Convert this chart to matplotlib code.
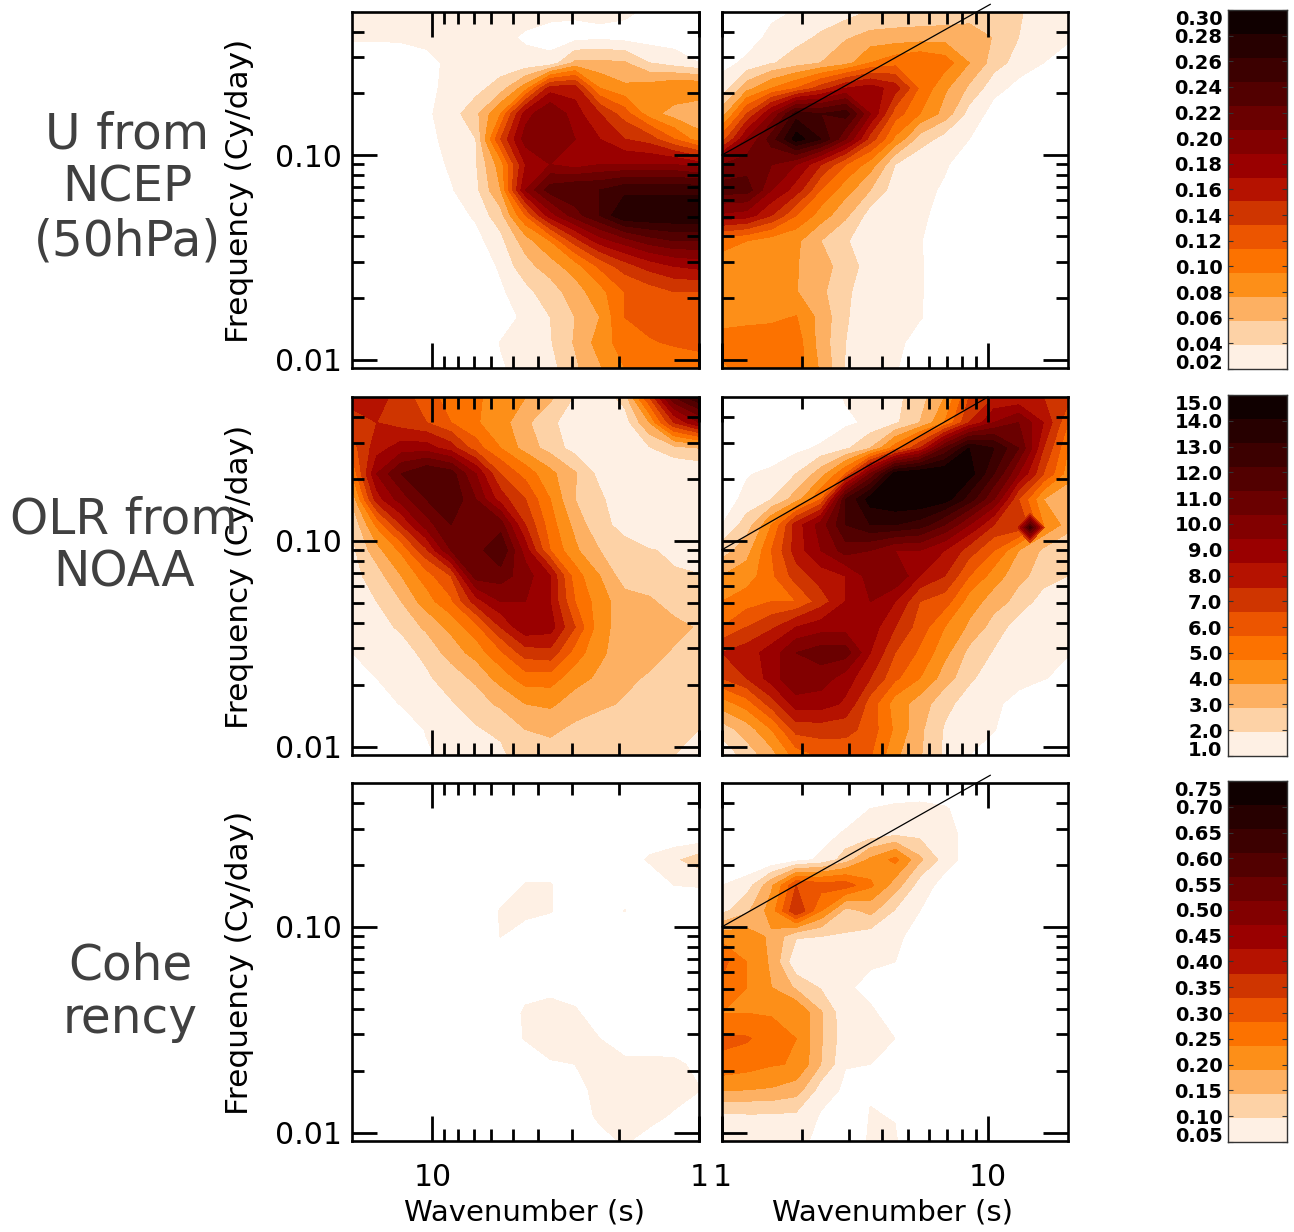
import numpy as np
import matplotlib
matplotlib.use("Agg")
import matplotlib.pyplot as plt
from matplotlib.ticker import FixedLocator, NullFormatter

W, H = 1294, 1232
BAND_COLORS = ['#FEF0E4', '#FDD2A6', '#FDB062', '#FD8F18', '#FC7200', '#EC5500', '#CF3500', '#B51200',
               '#9A0000', '#820000', '#6A0000', '#520000', '#3C0000', '#270000', '#100000']

# Field values, in multiples of each row's contour unit; rows run top (high frequency) to bottom,
# columns run left to right across the panel.
U_WEST = [
 [1.3,1.3,1.6,1.3,1.3,1.3,1.3,1.3,1.3,1.2,1.2,1.2,0.8,0.5,0.5],
 [1.2,1.2,1.3,1.3,1.3,1.3,1.2,0.9,0.6,0.6,0.8,0.6,0.5,0.5,0.5],
 [0,0,0,0.7,1.2,1.3,1.3,1.2,1.3,3.2,3.2,3.1,2,1.5,1.0],
 [0,0,0,0.8,1.2,1.6,2.5,4.5,8.5,8.5,5,4.2,4.5,5,5],
 [0,0,0,0.8,1.5,2.7,5,9.5,11,9.5,8,6.5,4.5,3.5,3],
 [0,0,0,0.5,1.5,2,7,10.5,10.5,10,9,8,7.5,6,4.5],
 [0,0,0,0.3,1.2,1.9,4.5,9,10,9.5,10,10,10,10,9.5],
 [0,0,0,0,0.9,1.7,4,10,12.5,13,13,13.7,13.7,13.7,13.7],
 [0,0,0,0,0.3,1.2,2.6,6,9.5,11.5,13,15,15,15,15],
 [0,0,0,0,0,0.6,1.7,3.5,5,7.5,9.5,10.5,11.5,12,12],
 [0,0,0,0,0,0,1.2,2.6,3.5,4.5,6.2,7.5,8.4,9,9.3],
 [0,0,0,0,0,0,0.8,1.7,2.5,3.5,4.6,6,6.5,7,7],
 [0,0,0,0,0,0,0.3,1.3,2.0,3,4.0,6,6.4,6.5,6.5],
 [0,0,0,0,0,0,1.05,1.4,1.9,3.1,4.4,5.5,5.9,6.1,6.3],
 [0,0,0,0,0,0,0.9,1.3,1.6,2.8,3.9,5,5.3,5.5,5.5],
]
U_EAST = [
 [0,0,0.7,1.1,1.2,1.5,2.1,2.2,2.2,2.2,2.2,2.2,2.1,1.5,1.2],
 [0,0.5,1.3,1.6,2.2,2.9,3.3,3.4,3.5,3.6,3.8,2.9,2,1.4,1.1],
 [0.7,1.2,1.9,2.5,3,3.6,5,5.6,6,5.5,4,2.5,1.5,1,0.7],
 [1.4,3.6,5,6,7.5,9,9.5,8.5,5.8,4.2,2.8,1.3,0.7,0,0],
 [3.5,7,10,13.5,13,13.5,10,6.5,5,3.6,1.6,0.6,0,0,0],
 [6.5,10,12.5,15.5,14,11,7.5,4.8,2.5,1.6,1,0.4,0,0,0],
 [11,11.5,11,10,8,6,4.5,2,1.3,1.1,0.5,0,0,0,0],
 [12.5,12.5,10,8.5,6,4.4,3,1.4,1.2,0.9,0,0,0,0,0],
 [9.8,9.5,8,6,4.5,3.2,1.5,1.2,1.2,0.6,0,0,0,0,0],
 [5.5,5,4.5,4.2,3,2.1,1.3,1.2,1.1,0,0,0,0,0,0],
 [4.4,4.3,4.2,4.05,3.4,2.5,1.5,1.3,1.1,0.4,0,0,0,0,0],
 [4.3,4.2,4.1,4.05,3.2,2.2,1.3,1.2,1.1,0.3,0,0,0,0,0],
 [4.5,4.7,4.8,5.05,3.6,2.1,1.3,1.2,1.1,0.2,0,0,0,0,0],
 [5.5,5.5,5.5,5.5,3.5,2.0,1.4,1.3,0.5,0,0,0,0,0,0],
 [4.8,5.5,5.5,5.5,3.8,1.9,1.2,1.1,0.3,0,0,0,0,0,0],
]
OLR_WEST = [
 [8.5,8.5,7.5,6.5,5.5,5.2,4.5,4,3.2,1.9,1.2,2.5,7,12,14],
 [7.5,8,7.5,7,6,5.1,4.5,3.2,2.3,1.3,1.1,1.4,4,8,10],
 [6.5,8.5,9.5,9.5,8.5,6.5,5,3.6,2.6,1.6,1.2,1.2,1.9,2.6,3],
 [5,10,12,13,12.5,10,7,5.6,4.3,3.1,1.7,1.1,1.1,1.1,1.1],
 [3.2,8.5,10.5,12,13,11,8.5,7,5,3,2.2,1.3,1.1,1.1,1.1],
 [2,5.2,8,10.5,12,11.5,11.5,8,5.5,3.7,2.2,1.8,1.2,1.1,1.1],
 [1.7,3.6,5.2,7.8,11,11.5,13,9.5,6,4.2,3,2.2,2.05,1.9,1.4],
 [1.6,2.5,4,5.5,7,11.5,11.5,10.5,9,5.5,4,2.5,2.1,2.05,2.05],
 [1.1,2,3,4.5,5.8,8.5,10,10,9,6,4.5,3.4,3.2,2.5,2.2],
 [1,1.5,2.2,3.2,4.3,5.6,8,9.8,9.5,7,4.4,3.5,3.4,3.3,2.9],
 [1,1.1,1.5,2.3,3.4,4.4,5.8,7.5,7.7,5.6,4.2,3.5,3.3,2.9,2.3],
 [0.7,1,1.1,1.8,2.5,3.2,4.4,5.5,5.5,4.4,3.8,3.2,2.9,2.5,2.2],
 [0,0.6,1.05,1.4,1.9,2.5,3.2,4,4.2,3.5,3.2,2.9,2.4,2.2,2.0],
 [0,0,0.5,1.05,1.3,1.9,2.2,3.0,3.2,2.8,2.5,2.3,2.2,2.1,2.0],
 [0,0,0,0.9,1.2,1.4,1.8,2.5,2.6,2.3,2.2,2.1,2.05,2.0,1.9],
]
OLR_EAST = [
 [0,0,0,0,0.3,1.1,1.3,1.7,2.6,4,7,8,8,8,7.5],
 [0,0,0,0,0,0.8,1.2,1.8,3,5,8,10,11,9,6],
 [0,0,0,0.7,1.2,1.8,3,5.5,8,12,15,14,12,8,5],
 [0.3,0.9,1.3,2,3.5,6,11,15.5,16,16,15.5,13,10,7,4.5],
 [0.5,1.3,2,3.5,6,13,15.5,16,16,15.5,13.5,11,7,4,3.2],
 [1,2.5,5,8.5,10.5,13,14,14,13.5,12,10,8,8,5,3.5],
 [2.5,3.6,6,8.5,10,11.5,11,10,10,9,7.5,6,4,2.8,2],
 [4,4.5,5.8,7.5,8.5,9,10.5,11,9,8,6,4.5,3.3,2.5,2],
 [5,5.5,6,6,7.5,9,10,9,7,6.5,4.5,3.5,2.6,1.5,1.2],
 [6,7,7.8,9,9.5,9.5,9.5,8,6.5,5,3.8,2.5,1.5,1.1,1.1],
 [8,8.5,9.5,11,11.5,11.5,9,7,5.8,4.3,2.7,1.9,1.2,1.1,1.05],
 [7,8,9.5,11,10.5,9.5,8,6.2,5,3.5,2.2,1.3,1.1,1.05,0.7],
 [4.5,5.5,7.5,9.5,9.5,8.8,6.5,4.5,3.5,2.3,1.5,1.05,0.9,0.2,0],
 [2.5,3.5,5,7.4,7.5,7.4,6.5,4.8,3.2,1.9,1.2,1.05,0.3,0,0],
 [1.2,2.5,3.6,5.5,6.2,6.3,6.1,4.2,3.1,1.8,1,0.6,0,0,0],
]
# Small isolated OLR maximum beside the right-hand edge of the east panel
OLR_SPOT_WAVENUMBER = [12.6, 14.4, 16.4]
OLR_SPOT_FREQUENCY = [0.137, 0.116, 0.097]
OLR_SPOT = [[6.5, 6.5, 6.5], [6.5, 13.5, 6.5], [6.5, 6.5, 6.5]]

COH_WEST = [
 [0]*15,
 [0]*15,
 [0]*15,
 [0,0,0,0,0,0,0,0,0,0,0,0,1.2,1.8,2.5],
 [0,0,0,0,0,0,0,1.1,1.1,0,0,0,0,1.0,1.1],
 [0,0,0,0,0,0,1.1,1.6,1.1,0,0,1.05,0,0,0],
 [0,0,0,0,0,0,1.03,0,0,0,0,0,0,0,0],
 [0]*15,
 [0,0,0,0,0,0,0,0.5,0.6,0,0,0,0,0,0],
 [0,0,0,0,0,0,0,1.2,1.5,1.3,0,0,0,0,0],
 [0,0,0,0,0,0,0,1.1,1.5,1.5,1.0,0,0,0,0],
 [0,0,0,0,0,0,0,0,0.9,1.0,1.4,1.4,1.4,1.3,0.7],
 [0,0,0,0,0,0,0,0,0,0.5,1.4,1.4,1.4,1.4,1.05],
 [0,0,0,0,0,0,0,0,0,0.4,1.2,1.4,1.3,0.9,0.3],
 [0,0,0,0,0,0,0,0,0,0,0.7,1.1,0.7,0,0],
]
COH_EAST = [
 [0]*15,
 [0,0,0,0,0,0,1.0,1.2,1.3,1.1,0.5,0,0,0,0],
 [0,0,0,0,0.5,1.2,1.4,1.8,1.7,1.2,0.8,0,0,0,0],
 [0,0,0,0.6,1.2,2.5,4.2,5.3,3.2,1.5,0.5,0,0,0,0],
 [1,1.5,3.8,7,6.5,6.5,5.2,3.5,1.5,0.6,0,0,0,0,0],
 [1.7,2.8,4.5,8,5,2.6,3.3,1.9,1,0.3,0,0,0,0,0],
 [4.5,4.5,3.8,2.1,2,1.9,1.5,1.2,0.6,0,0,0,0,0,0],
 [6.3,5,3.8,1.1,1.2,1.2,1.1,1.0,0.2,0,0,0,0,0,0],
 [5.8,5,4,2.8,1.9,1.1,0.8,0,0,0,0,0,0,0,0],
 [5,5,4.9,5,3.1,1.2,1.1,0.7,0,0,0,0,0,0,0],
 [6.2,6.1,5.5,5,3.1,1.3,1.2,1,0,0,0,0,0,0,0],
 [5.8,5.5,5.1,4.9,3,1.05,1.0,1.0,0,0,0,0,0,0,0],
 [4.1,4,3.9,3.5,1.5,0.8,0.9,0.6,0,0,0,0,0,0,0],
 [1.8,1.9,1.9,1.8,0.9,0.3,1.05,0.95,0,0,0,0,0,0,0],
 [1.3,1.2,1.2,1.1,0.9,0,1.2,1.1,0,0,0,0,0,0,0],
]

UNITS = [0.02, 1.0, 0.05]
BAR_LABELS = [[f'{v:.2f}' for v in np.arange(1, 16) * 0.02],
              [f'{v:.1f}' for v in np.arange(1, 16) * 1.0],
              [f'{v:.2f}' for v in np.arange(1, 16) * 0.05]]
ROW_TITLES = ['U from\nNCEP\n(50hPa)', 'OLR from\nNOAA', 'Cohe\nrency']
ROW_TITLE_XY = [(127, 188), (124, 546), (130, 992)]
FIELDS = [(U_WEST, U_EAST), (OLR_WEST, OLR_EAST), (COH_WEST, COH_EAST)]
LINE_WAVENUMBER = [[1, 10.2], [1, 10], [1, 10.2]]
LINE_FREQUENCY = [[0.1, 0.545], [0.0905, 0.5], [0.1, 0.545]]

ROW_TOPS = [12, 397, 783]
ROW_BOTTOMS = [368, 755, 1141]
WEST_X = (352, 699)
EAST_X = (722, 1068)
BAR_X = (1228, 1287)
XMAX, FMAX, FMIN = 20, 0.5, 0.0091
NCOL, NROW = 15, 15

x_major = [1, 10]
x_minor = [2, 3, 4, 5, 6, 7, 8, 9]
y_major = [0.01, 0.1]
y_minor = [0.02, 0.03, 0.04, 0.05, 0.06, 0.07, 0.08, 0.09, 0.2, 0.3, 0.4]
TXT = 'black'

fig = plt.figure(figsize=(W / 100, H / 100), dpi=100, facecolor='white')


def px_axes(x0, x1, top, bottom):
    return fig.add_axes([x0 / W, 1 - bottom / H, (x1 - x0) / W, (bottom - top) / H])


freq = np.logspace(np.log10(FMAX), np.log10(FMIN), NROW)
west_x = np.logspace(np.log10(XMAX), 0, NCOL)
east_x = np.logspace(0, np.log10(XMAX), NCOL)

for r in range(3):
    top, bottom = ROW_TOPS[r], ROW_BOTTOMS[r]
    levels = np.arange(1, 17) * UNITS[r]
    for side in range(2):
        ax = px_axes(*(WEST_X if side == 0 else EAST_X), top, bottom)
        xs = west_x if side == 0 else east_x
        z = np.array(FIELDS[r][side], dtype=float) * UNITS[r]
        ax.contourf(xs, freq, z, levels=levels, colors=BAND_COLORS, extend='max')
        if r == 1 and side == 1:
            ax.contourf(OLR_SPOT_WAVENUMBER, OLR_SPOT_FREQUENCY, np.array(OLR_SPOT),
                        levels=levels[6:], colors=BAND_COLORS[6:], extend='max')
        ax.set_xscale('log')
        ax.set_yscale('log')
        ax.set_xlim((XMAX, 1) if side == 0 else (1, XMAX))
        ax.set_ylim(FMIN, FMAX)
        ax.xaxis.set_major_locator(FixedLocator(x_major))
        ax.xaxis.set_minor_locator(FixedLocator(x_minor))
        ax.yaxis.set_major_locator(FixedLocator(y_major))
        ax.yaxis.set_minor_locator(FixedLocator(y_minor))
        ax.xaxis.set_minor_formatter(NullFormatter())
        ax.yaxis.set_minor_formatter(NullFormatter())
        ax.tick_params(which='major', direction='in', top=True, right=True, length=18, width=2.0, color='black')
        ax.tick_params(which='minor', direction='in', top=True, right=True, length=8.5, width=2.0, color='black')
        ax.tick_params(axis='x', which='major', pad=16)
        ax.tick_params(axis='y', which='major', pad=7)
        for s in ax.spines.values():
            s.set_linewidth(1.9)
        if side == 0:
            ax.set_yticklabels(['0.01', '0.10'], fontsize=21.5, color=TXT)
        else:
            ax.set_yticklabels([])
        if r == 2:
            ax.set_xticklabels(['1', '10'], fontsize=21.5, color=TXT)
        else:
            ax.set_xticklabels([])
        if side == 1:
            ax.plot(LINE_WAVENUMBER[r], LINE_FREQUENCY[r], color='black', lw=0.9, clip_on=False)

    fig.text(240 / W, 1 - ((top + bottom) / 2 + 1) / H, 'Frequency (Cy/day)', rotation=90, fontsize=22.5,
             color=TXT, ha='center', va='center')
    tx, ty = ROW_TITLE_XY[r]
    fig.text(tx / W, 1 - ty / H, ROW_TITLES[r], fontsize=35, color='#404040', ha='center', va='center',
             multialignment='center', linespacing=1.15)

    cax = px_axes(*BAR_X, top - 2, bottom + 1)
    tick_vals = levels[:15]
    edges = np.linspace(tick_vals[0], tick_vals[-1], 16)
    cax.pcolormesh([0, 1], edges, np.arange(15).reshape(-1, 1),
                   cmap=matplotlib.colors.ListedColormap(BAND_COLORS), shading='flat')
    cax.set_xticks([])
    cax.set_ylim(tick_vals[0], tick_vals[-1])
    cax.set_yticks(tick_vals)
    cax.set_yticklabels(BAR_LABELS[r], fontsize=14, color=TXT, fontweight='bold')
    cax.tick_params(axis='y', direction='in', left=True, right=True, length=3.5, width=0.8, pad=4, color='#333333')
    labs = cax.get_yticklabels()
    labs[0].set_va('baseline')
    labs[-1].set_va('top')
    for s in cax.spines.values():
        s.set_linewidth(1.0)
        s.set_color('#333333')

for cx in (524, 893):
    fig.text(cx / W, 1 - 1213 / H, 'Wavenumber (s)', fontsize=21, color=TXT, ha='center', va='center')

fig.savefig('out.png', dpi=100)
